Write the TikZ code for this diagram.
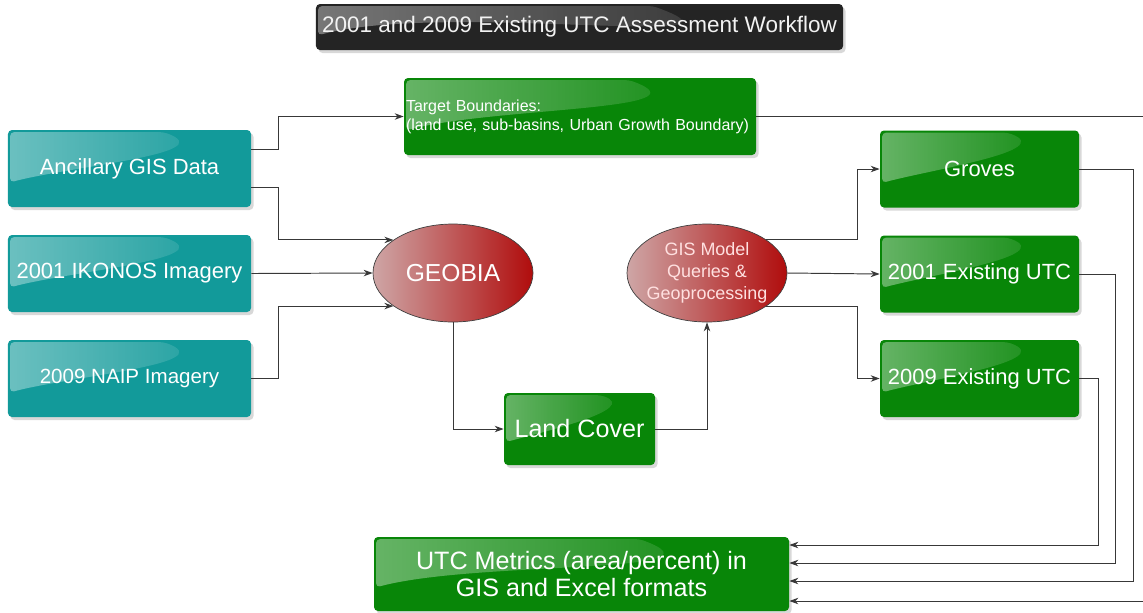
\documentclass[tikz,border=0pt]{standalone}
\usepackage{fontspec}
\setmainfont{Liberation Sans}
\usetikzlibrary{positioning,arrows.meta,calc,shapes.geometric,shadows,fadings}
\definecolor{figteal}{RGB}{18,154,154}
\definecolor{figgreen}{RGB}{8,134,8}
\definecolor{figtitle}{RGB}{36,36,36}
\definecolor{ovlight}{RGB}{206,166,166}
\definecolor{ovdark}{RGB}{176,12,12}
\definecolor{figline}{gray}{0.22}
\tikzset{
  fig/.style={font=\fontsize{12.5}{14}\selectfont},
  gloss/.style={path picture={
      \fill[white,fill opacity=0.38,path fading=east]
        ([shift={(1.2pt,-1.2pt)}]path picture bounding box.north west)
        -- ($(path picture bounding box.north west)!0.64!(path picture bounding box.north east)+(0,-1.2pt)$)
        to[out=-20,in=15] ($(path picture bounding box.north west)!0.68!(path picture bounding box.south west)+(1.2pt,0)$)
        -- cycle;}},
  box/.style={rounded corners=0.8mm,minimum height=15.4mm,align=center,text=white,
              inner sep=1pt,gloss,
              drop shadow={shadow xshift=0.5mm,shadow yshift=-0.6mm,opacity=0.3}},
  tealbox/.style={box,fill=figteal,minimum width=48.6mm},
  greenbox/.style={box,fill=figgreen,minimum width=39.8mm},
  titlebox/.style={box,fill=figtitle,minimum width=105.4mm,minimum height=9.2mm,
                   text=black!5,font=\fontsize{12.8}{14}\selectfont},
  ovalnode/.style={ellipse,draw=black!75,thin,minimum width=32mm,minimum height=19.6mm,
                   inner xsep=-3pt,inner ysep=0pt,align=center,text=white,
                   left color=ovlight,right color=ovdark},
  conn/.style={-{Stealth[length=1.8mm,width=1.3mm]},figline,line width=0.55pt},
}

\begin{document}
\begin{tikzpicture}[fig,x=0.2mm,y=-0.2mm]

\path[use as bounding box,fill=white] (0,0) rectangle (1143,612);

% ------------------------------------------------ title
\node[titlebox] (title) at (579.5,27) {2001 and 2009 Existing UTC Assessment Workflow};

% ------------------------------------------------ inputs
\foreach \n/\y/\t in {anc/168.5/{Ancillary GIS Data},
                      ikonos/273.5/{2001 IKONOS Imagery}}
  {\node[tealbox] (\n) at (129.5,\y) {\t};}
\node[tealbox,font=\fontsize{11.7}{14}\selectfont] (naip) at (129.5,378.5) {2009 NAIP Imagery};

% ------------------------------------------------ processing
\node[greenbox,text width=69.6mm,align=left,inner xsep=0.4mm,
      font=\fontsize{9.1}{10.8}\selectfont] (target) at (580,116.5)
  {Target Boundaries:\\\mbox{(land use, sub-basins, Urban Growth Boundary)}};
\node[ovalnode,font=\fontsize{14}{16}\selectfont] (geobia) at (453,273) {GEOBIA};
\node[greenbox,minimum width=30.2mm,minimum height=14.4mm,
      font=\fontsize{14.3}{16}\selectfont] (cover) at (579.5,429) {Land Cover};
\node[ovalnode,text=red!12!white,font=\fontsize{10.2}{12.5}\selectfont] (gis) at (707,273)
  {GIS Model\\Queries \&\\Geoprocessing};

% ------------------------------------------------ outputs
\foreach \n/\y/\t in {groves/169/{Groves},
                      utc01/274/{2001 Existing UTC},
                      utc09/378.5/{2009 Existing UTC}}
  {\node[greenbox] (\n) at (979.5,\y) {\t};}
\node[greenbox,minimum width=83mm,minimum height=14.8mm,
      font=\fontsize{14.3}{15.8}\selectfont] (metrics) at (581.5,574)
  {UTC Metrics (area/percent) in\\GIS and Excel formats};

% ------------------------------------------------ connectors
\draw[conn] ([yshift=3.9mm]anc.east) -- ++(27,0) |- (target.west);
\draw[conn] ([yshift=-3.7mm]anc.east) -- ++(27,0) |- (geobia.151);
\draw[conn] (ikonos.east) -- (geobia.west);
\draw[conn] (naip.east) -- ++(27,0) |- (geobia.209);
\draw[conn] (geobia.south) |- (cover.west);
\draw[conn] (cover.east) -| (gis.south);
\draw[conn] (gis.30) -| ([xshift=-4.4mm]groves.west) -- (groves.west);
\draw[conn] (gis.east) -- (utc01.west);
\draw[conn] (gis.-30) -| ([xshift=-4.4mm]utc09.west) -- (utc09.west);

\draw[conn] (utc09.east) -- ++(19,0) |- ([yshift=5.8mm]metrics.east);
\draw[conn] (utc01.east) -- ++(36,0) |- ([yshift=2.2mm]metrics.east);
\draw[conn] (groves.east) -- ++(54,0) |- ([yshift=-1.4mm]metrics.east);
\draw[conn] (target.east) -- ++(420,0) |- ([yshift=-5.4mm]metrics.east);

\end{tikzpicture}
\end{document}
